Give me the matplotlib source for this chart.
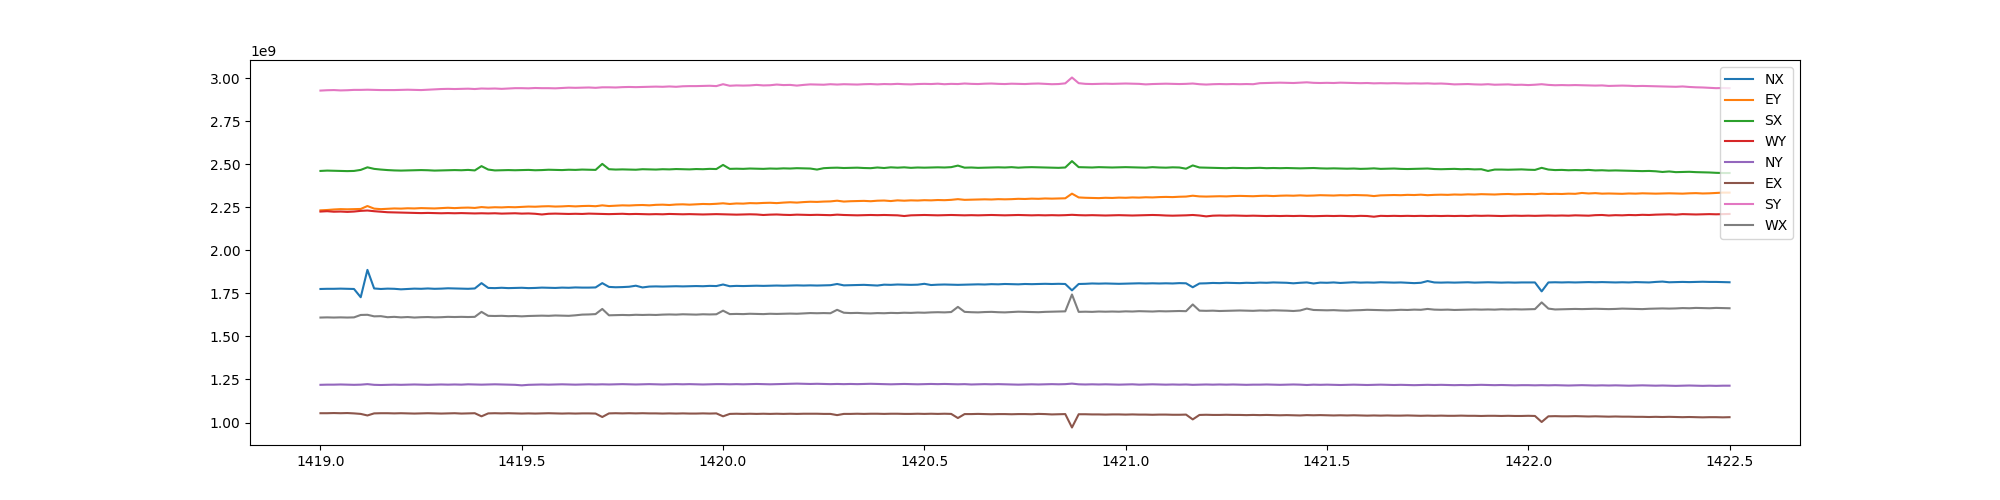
import numpy as np
import matplotlib
matplotlib.use('Agg')
import matplotlib.pyplot as plt


# sampled every 1/60 from 1419.0 to 1422.5, values in units of 1e6
T_START = 1419.0
T_STEP = 1 / 60

NX = [1776, 1777, 1777, 1778, 1777, 1776, 1728, 1887, 1779, 1776,
      1778, 1777, 1774, 1776, 1778, 1777, 1779, 1777, 1778, 1780,
      1779, 1778, 1777, 1779, 1810, 1782, 1781, 1783, 1781, 1782,
      1783, 1781, 1782, 1784, 1783, 1782, 1784, 1783, 1785, 1784,
      1784, 1785, 1810, 1788, 1786, 1787, 1789, 1795, 1785, 1790,
      1791, 1790, 1791, 1792, 1791, 1792, 1793, 1792, 1794, 1793,
      1802, 1792, 1794, 1793, 1794, 1795, 1794, 1795, 1796, 1795,
      1796, 1797, 1796, 1797, 1796, 1797, 1798, 1805, 1797, 1798,
      1799, 1800, 1798, 1796, 1801, 1800, 1802, 1801, 1800, 1801,
      1806, 1799, 1801, 1802, 1801, 1800, 1801, 1802, 1803, 1802,
      1804, 1803, 1805, 1804, 1803, 1805, 1804, 1805, 1806, 1805,
      1806, 1805, 1768, 1805, 1806, 1808, 1807, 1808, 1807, 1806,
      1807, 1808, 1809, 1808, 1809, 1808, 1809, 1808, 1810, 1809,
      1786, 1808, 1809, 1811, 1810, 1812, 1811, 1810, 1812, 1811,
      1813, 1812, 1814, 1813, 1812, 1809, 1812, 1814, 1808, 1813,
      1812, 1814, 1811, 1813, 1815, 1813, 1814, 1813, 1815, 1814,
      1813, 1814, 1812, 1810, 1812, 1822, 1814, 1813, 1814, 1813,
      1814, 1815, 1813, 1814, 1815, 1814, 1813, 1814, 1813, 1814,
      1814, 1814, 1762, 1814, 1815, 1814, 1815, 1814, 1815, 1816,
      1815, 1816, 1815, 1814, 1815, 1814, 1816, 1815, 1814, 1817,
      1819, 1815, 1816, 1817, 1816, 1817, 1818, 1817, 1817, 1816, 1815]

EY = [2233, 2235, 2238, 2240, 2239, 2240, 2241, 2258, 2243, 2240,
      2242, 2244, 2243, 2245, 2244, 2246, 2245, 2244, 2246, 2248,
      2246, 2248, 2249, 2247, 2252, 2249, 2251, 2250, 2252, 2251,
      2253, 2255, 2254, 2256, 2257, 2255, 2256, 2258, 2256, 2258,
      2259, 2257, 2262, 2258, 2260, 2262, 2261, 2263, 2264, 2262,
      2265, 2266, 2264, 2267, 2268, 2266, 2268, 2270, 2269, 2271,
      2274, 2270, 2273, 2272, 2275, 2274, 2276, 2277, 2275, 2278,
      2280, 2278, 2281, 2283, 2282, 2284, 2285, 2289, 2284, 2286,
      2287, 2288, 2286, 2289, 2290, 2287, 2291, 2289, 2291, 2290,
      2292, 2291, 2293, 2292, 2294, 2298, 2294, 2295, 2296, 2297,
      2296, 2298, 2297, 2298, 2300, 2299, 2301, 2300, 2302, 2301,
      2302, 2303, 2330, 2308, 2306, 2305, 2304, 2306, 2305, 2307,
      2306, 2308, 2307, 2309, 2308, 2310, 2311, 2310, 2312, 2313,
      2318, 2314, 2313, 2314, 2315, 2314, 2316, 2317, 2316, 2315,
      2317, 2318, 2316, 2318, 2319, 2318, 2320, 2318, 2319, 2321,
      2320, 2319, 2321, 2320, 2322, 2321, 2320, 2316, 2320, 2321,
      2322, 2321, 2323, 2322, 2324, 2321, 2323, 2324, 2323, 2325,
      2324, 2326, 2325, 2327, 2326, 2325, 2327, 2328, 2326, 2327,
      2328, 2327, 2330, 2328, 2329, 2328, 2330, 2329, 2334, 2331,
      2333, 2330, 2331, 2330, 2329, 2331, 2330, 2332, 2331, 2330,
      2331, 2332, 2331, 2330, 2332, 2333, 2331, 2332, 2334, 2336, 2336]

SX = [2462, 2464, 2463, 2462, 2461, 2462, 2468, 2483, 2474, 2470,
      2467, 2465, 2464, 2465, 2466, 2467, 2466, 2464, 2465, 2466,
      2467, 2466, 2468, 2465, 2490, 2470, 2465, 2466, 2467, 2466,
      2467, 2468, 2466, 2467, 2469, 2468, 2467, 2469, 2468, 2470,
      2469, 2468, 2503, 2472, 2470, 2471, 2470, 2469, 2472, 2471,
      2470, 2472, 2471, 2473, 2472, 2471, 2473, 2472, 2474, 2473,
      2497, 2474, 2475, 2474, 2476, 2475, 2474, 2476, 2475, 2477,
      2476, 2478, 2477, 2476, 2470, 2478, 2480, 2481, 2479, 2480,
      2481, 2479, 2478, 2482, 2479, 2483, 2481, 2483, 2480, 2482,
      2481, 2482, 2483, 2482, 2484, 2493, 2481, 2482, 2480, 2481,
      2482, 2483, 2482, 2484, 2481, 2483, 2484, 2483, 2482, 2481,
      2480, 2482, 2519, 2484, 2483, 2482, 2484, 2483, 2482, 2483,
      2484, 2483, 2482, 2481, 2484, 2482, 2481, 2483, 2482, 2475,
      2494, 2482, 2481, 2480, 2479, 2478, 2480, 2479, 2478, 2479,
      2480, 2478, 2479, 2478, 2479, 2478, 2477, 2478, 2479, 2477,
      2476, 2477, 2476, 2475, 2476, 2474, 2475, 2477, 2474, 2475,
      2476, 2474, 2473, 2474, 2475, 2476, 2473, 2472, 2473, 2474,
      2472, 2473, 2471, 2472, 2462, 2470, 2470, 2469, 2470, 2471,
      2469, 2468, 2480, 2470, 2467, 2468, 2466, 2467, 2466, 2468,
      2465, 2466, 2464, 2465, 2464, 2463, 2462, 2461, 2462, 2460,
      2456, 2459, 2455, 2456, 2457, 2455, 2454, 2453, 2451, 2450, 2450]

WY = [2226, 2228, 2225, 2226, 2224, 2226, 2230, 2232, 2228, 2225,
      2222, 2221, 2220, 2219, 2218, 2217, 2218, 2217, 2216, 2217,
      2216, 2217, 2216, 2215, 2216, 2215, 2216, 2214, 2215, 2216,
      2214, 2215, 2213, 2209, 2213, 2214, 2213, 2212, 2213, 2212,
      2214, 2213, 2212, 2211, 2212, 2213, 2211, 2212, 2211, 2210,
      2211, 2210, 2212, 2211, 2210, 2211, 2210, 2209, 2210, 2211,
      2210, 2209, 2208, 2209, 2210, 2209, 2206, 2208, 2209, 2207,
      2206, 2208, 2207, 2206, 2207, 2206, 2205, 2208, 2206, 2205,
      2204, 2205, 2206, 2205, 2206, 2205, 2204, 2200, 2204, 2205,
      2206, 2205, 2204, 2205, 2206, 2205, 2204, 2205, 2204, 2205,
      2206, 2205, 2204, 2205, 2206, 2205, 2204, 2205, 2204, 2205,
      2204, 2205, 2207, 2205, 2204, 2205, 2204, 2203, 2204, 2205,
      2204, 2203, 2204, 2205, 2206, 2205, 2203, 2202, 2203, 2204,
      2206, 2203, 2198, 2202, 2203, 2202, 2203, 2202, 2201, 2202,
      2201, 2200, 2201, 2200, 2201, 2200, 2201, 2200, 2199, 2200,
      2201, 2200, 2201, 2200, 2199, 2201, 2200, 2196, 2201, 2200,
      2201, 2200, 2201, 2200, 2201, 2200, 2201, 2200, 2201, 2200,
      2201, 2200, 2202, 2201, 2202, 2201, 2200, 2201, 2202, 2201,
      2202, 2201, 2202, 2203, 2202, 2203, 2202, 2204, 2203, 2202,
      2205, 2206, 2203, 2205, 2204, 2206, 2205, 2207, 2206, 2208,
      2209, 2210, 2208, 2211, 2210, 2209, 2210, 2211, 2210, 2211, 2212]

NY = [1219, 1220, 1220, 1221, 1220, 1219, 1220, 1223, 1219, 1218,
      1219, 1220, 1219, 1220, 1221, 1220, 1219, 1220, 1221, 1220,
      1221, 1220, 1222, 1221, 1220, 1221, 1222, 1221, 1220, 1219,
      1216, 1219, 1220, 1221, 1220, 1221, 1222, 1221, 1220, 1221,
      1222, 1221, 1222, 1221, 1222, 1223, 1222, 1221, 1222, 1223,
      1222, 1221, 1222, 1223, 1222, 1223, 1222, 1221, 1222, 1223,
      1223, 1222, 1223, 1222, 1223, 1224, 1223, 1222, 1223, 1224,
      1225, 1226, 1225, 1224, 1225, 1224, 1223, 1224, 1223, 1224,
      1223, 1224, 1225, 1224, 1223, 1222, 1223, 1224, 1223, 1222,
      1223, 1224, 1223, 1224, 1223, 1222, 1223, 1221, 1222, 1223,
      1222, 1223, 1222, 1221, 1220, 1221, 1222, 1221, 1222, 1223,
      1222, 1223, 1226, 1222, 1221, 1222, 1221, 1222, 1221, 1220,
      1221, 1222, 1220, 1221, 1222, 1221, 1220, 1221, 1220, 1221,
      1219, 1220, 1221, 1220, 1221, 1220, 1221, 1220, 1219, 1220,
      1220, 1221, 1220, 1219, 1220, 1221, 1220, 1218, 1220, 1219,
      1220, 1219, 1218, 1219, 1220, 1219, 1218, 1219, 1220, 1219,
      1218, 1219, 1218, 1217, 1218, 1219, 1218, 1219, 1218, 1217,
      1218, 1217, 1218, 1219, 1218, 1217, 1218, 1217, 1216, 1217,
      1217, 1216, 1217, 1216, 1217, 1216, 1215, 1216, 1217, 1216,
      1215, 1216, 1215, 1216, 1215, 1214, 1215, 1216, 1215, 1214,
      1215, 1214, 1213, 1214, 1215, 1214, 1213, 1214, 1213, 1214, 1214]

EX = [1054, 1054, 1055, 1054, 1055, 1053, 1050, 1041, 1053, 1054,
      1054, 1053, 1054, 1053, 1052, 1053, 1054, 1053, 1052, 1053,
      1054, 1052, 1053, 1054, 1036, 1053, 1054, 1053, 1054, 1053,
      1052, 1053, 1052, 1053, 1054, 1053, 1052, 1053, 1052, 1053,
      1053, 1052, 1032, 1053, 1054, 1053, 1054, 1053, 1054, 1053,
      1053, 1052, 1053, 1052, 1053, 1052, 1052, 1053, 1052, 1053,
      1036, 1050, 1051, 1050, 1051, 1050, 1051, 1050, 1051, 1050,
      1051, 1050, 1051, 1051, 1051, 1050, 1050, 1043, 1050, 1050,
      1051, 1050, 1051, 1051, 1050, 1051, 1051, 1050, 1050, 1051,
      1050, 1051, 1050, 1051, 1050, 1026, 1049, 1049, 1050, 1049,
      1048, 1049, 1049, 1048, 1049, 1049, 1048, 1050, 1049, 1047,
      1048, 1049, 971, 1048, 1048, 1047, 1047, 1046, 1047, 1047,
      1046, 1047, 1046, 1046, 1045, 1046, 1046, 1045, 1045, 1046,
      1018, 1044, 1045, 1044, 1044, 1045, 1044, 1044, 1043, 1044,
      1043, 1044, 1043, 1042, 1043, 1042, 1041, 1043, 1042, 1043,
      1042, 1041, 1042, 1041, 1042, 1041, 1040, 1041, 1040, 1041,
      1040, 1040, 1041, 1040, 1039, 1040, 1039, 1040, 1039, 1039,
      1040, 1039, 1039, 1038, 1039, 1039, 1038, 1039, 1038, 1038,
      1039, 1038, 1003, 1036, 1037, 1036, 1036, 1037, 1036, 1035,
      1036, 1035, 1034, 1035, 1034, 1034, 1033, 1033, 1032, 1033,
      1032, 1033, 1032, 1031, 1032, 1031, 1030, 1031, 1031, 1030, 1031]

SY = [2929, 2931, 2932, 2930, 2931, 2933, 2933, 2934, 2933, 2932,
      2932, 2932, 2933, 2934, 2933, 2932, 2934, 2936, 2938, 2939,
      2938, 2939, 2940, 2938, 2941, 2940, 2941, 2939, 2941, 2943,
      2943, 2942, 2944, 2943, 2943, 2942, 2944, 2946, 2945, 2946,
      2947, 2945, 2948, 2948, 2947, 2949, 2950, 2949, 2950, 2951,
      2952, 2951, 2953, 2951, 2954, 2955, 2955, 2956, 2957, 2955,
      2966, 2957, 2959, 2958, 2959, 2962, 2959, 2960, 2964, 2961,
      2962, 2958, 2962, 2965, 2964, 2963, 2966, 2964, 2966, 2965,
      2964, 2966, 2967, 2965, 2967, 2966, 2968, 2966, 2965, 2967,
      2968, 2967, 2969, 2966, 2968, 2967, 2970, 2968, 2967, 2969,
      2970, 2968, 2967, 2969, 2968, 2967, 2969, 2970, 2968, 2966,
      2967, 2971, 3005, 2972, 2968, 2967, 2968, 2969, 2968, 2969,
      2970, 2969, 2968, 2965, 2967, 2968, 2969, 2968, 2967, 2968,
      2970, 2966, 2964, 2966, 2967, 2966, 2967, 2966, 2967, 2966,
      2972, 2973, 2974, 2975, 2974, 2973, 2975, 2977, 2974, 2973,
      2974, 2973, 2975, 2974, 2973, 2972, 2973, 2971, 2972, 2971,
      2972, 2971, 2970, 2971, 2970, 2971, 2969, 2970, 2968, 2965,
      2966, 2967, 2965, 2964, 2966, 2963, 2964, 2965, 2962, 2963,
      2961, 2963, 2966, 2962, 2960, 2961, 2960, 2961, 2960, 2959,
      2958, 2959, 2956, 2957, 2958, 2957, 2955, 2956, 2955, 2954,
      2953, 2952, 2951, 2953, 2950, 2948, 2947, 2945, 2943, 2944, 2943]

WX = [1610, 1611, 1610, 1611, 1610, 1611, 1625, 1626, 1617, 1618,
      1612, 1614, 1611, 1613, 1610, 1612, 1613, 1611, 1612, 1614,
      1613, 1614, 1613, 1614, 1643, 1620, 1619, 1620, 1618, 1619,
      1617, 1619, 1620, 1621, 1620, 1622, 1621, 1620, 1623, 1627,
      1628, 1630, 1660, 1623, 1624, 1625, 1624, 1626, 1625, 1626,
      1625, 1627, 1628, 1627, 1629, 1628, 1627, 1629, 1628, 1629,
      1650, 1630, 1631, 1630, 1632, 1631, 1630, 1632, 1631, 1632,
      1633, 1632, 1634, 1636, 1635, 1636, 1635, 1655, 1638, 1636,
      1637, 1635, 1634, 1636, 1635, 1637, 1636, 1638, 1637, 1639,
      1638, 1640, 1641, 1640, 1642, 1672, 1643, 1641, 1640, 1642,
      1643, 1641, 1640, 1642, 1644, 1643, 1642, 1641, 1643, 1644,
      1645, 1646, 1744, 1643, 1644, 1643, 1645, 1644, 1645, 1644,
      1646, 1645, 1647, 1646, 1645, 1647, 1646, 1647, 1648, 1647,
      1686, 1650, 1649, 1650, 1648, 1649, 1650, 1651, 1650, 1649,
      1651, 1650, 1652, 1651, 1650, 1648, 1651, 1662, 1654, 1653,
      1652, 1653, 1651, 1650, 1652, 1653, 1655, 1654, 1653, 1652,
      1653, 1655, 1654, 1656, 1655, 1660, 1656, 1655, 1656, 1654,
      1655, 1656, 1657, 1656, 1657, 1656, 1658, 1657, 1658, 1657,
      1658, 1659, 1698, 1662, 1657, 1658, 1659, 1660, 1659, 1660,
      1661, 1660, 1659, 1660, 1662, 1661, 1660, 1659, 1661, 1662,
      1663, 1662, 1663, 1665, 1664, 1666, 1665, 1664, 1666, 1665, 1664]

SERIES = {'NX': NX, 'EY': EY, 'SX': SX, 'WY': WY,
          'NY': NY, 'EX': EX, 'SY': SY, 'WX': WX}


def main():
    fig = plt.figure(figsize=(20, 5), dpi=100)
    ax = fig.add_subplot(1, 1, 1)

    for name, vals in SERIES.items():
        t = T_START + np.arange(len(vals)) * T_STEP
        ax.plot(t, np.array(vals) * 1e6, label=name)

    ax.legend(loc='upper right')
    plt.savefig('out.png')


if __name__ == '__main__':
    main()
